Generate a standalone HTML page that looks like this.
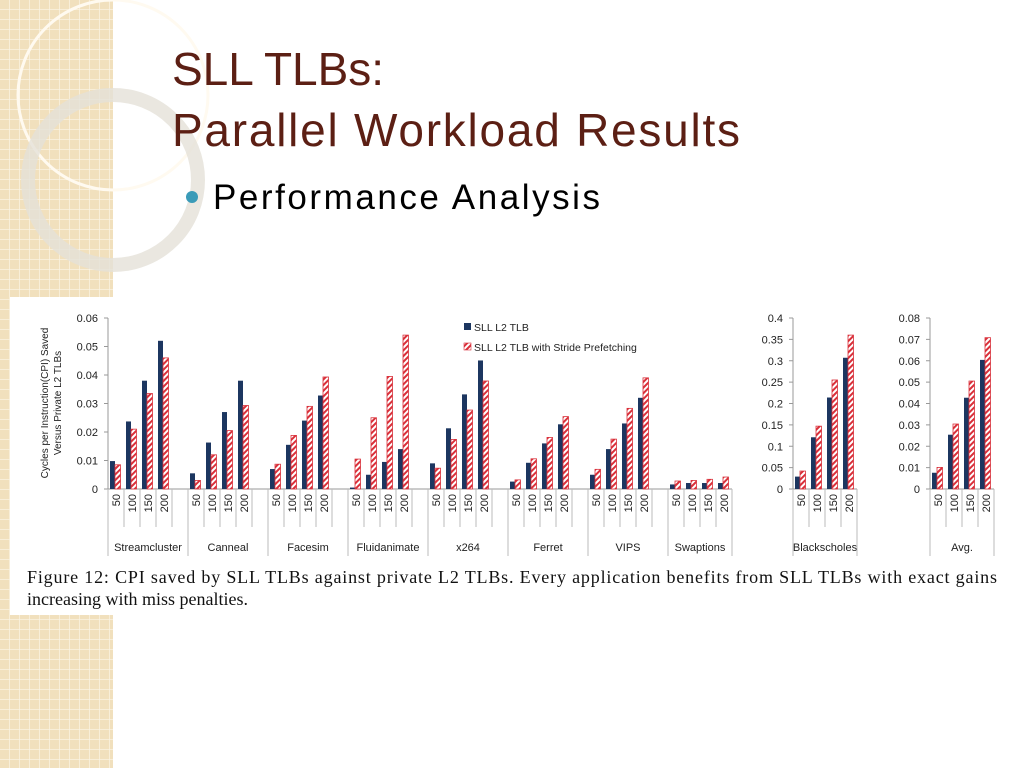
<!DOCTYPE html>
<html><head><meta charset="utf-8"><style>
html,body{margin:0;padding:0;background:#fff;}
svg{display:block;font-family:"Liberation Sans",sans-serif;}
</style></head><body>
<svg id="s" width="1024" height="768" viewBox="0 0 1024 768" xmlns="http://www.w3.org/2000/svg">
<defs>
<pattern id="grid" width="10" height="10" patternUnits="userSpaceOnUse">
<rect width="10" height="10" fill="#f1e0bd"/><path d="M10 0V10M0 10H10" stroke="#fbf3e2" stroke-width="1.5"/>
</pattern>
<pattern id="hatch" width="4" height="4" patternUnits="userSpaceOnUse" patternTransform="rotate(45)">
<rect width="4" height="4" fill="#fff"/><rect width="2" height="4" fill="#d9303a"/>
</pattern>
</defs>
<rect x="0" y="0" width="113" height="768" fill="url(#grid)"/>
<circle cx="113" cy="95" r="95" fill="none" stroke="#fffaf0" stroke-width="3"/>
<circle cx="113" cy="180" r="85" fill="none" stroke="#e5e1d8" stroke-width="14" opacity="0.8"/>
<text x="172" y="85" font-size="46" fill="#5c1f14" textLength="212">SLL TLBs:</text>
<text x="172" y="146" font-size="46" fill="#5c1f14" textLength="568">Parallel Workload Results</text>
<circle cx="192" cy="197" r="6" fill="#3a9bb8"/>
<text x="213" y="209" font-size="35" fill="#000" textLength="387">Performance Analysis</text>
<rect x="10" y="297" width="1000" height="318" fill="#fff"/>
<g id="chart"></g>
<text x="27" y="583" font-family="Liberation Serif" font-size="18" fill="#111" textLength="970">Figure 12:  CPI saved by SLL TLBs against private L2 TLBs.  Every application benefits from SLL TLBs with exact gains</text>
<text x="27" y="605" font-family="Liberation Serif" font-size="18" fill="#111">increasing with miss penalties.</text>
</svg>
<script>
const categories=["Streamcluster","Canneal","Facesim","Fluidanimate","x264","Ferret","VIPS","Swaptions"];
const penalties=["50","100","150","200"];
const sllValues=[[0.0098,0.0237,0.038,0.052],[0.0055,0.0163,0.027,0.038],[0.007,0.0155,0.024,0.0328],[0.0005,0.005,0.0095,0.014],[0.009,0.0213,0.0332,0.0451],[0.0026,0.0092,0.016,0.0227],[0.005,0.014,0.023,0.032],[0.0016,0.0021,0.0021,0.0021]];
const strideValues=[[0.0085,0.021,0.0335,0.046],[0.003,0.012,0.0205,0.0293],[0.0087,0.0188,0.029,0.0393],[0.0105,0.025,0.0395,0.054],[0.0073,0.0174,0.0277,0.0379],[0.0032,0.0106,0.0181,0.0254],[0.0069,0.0175,0.0283,0.039],[0.0028,0.003,0.0034,0.0042]];
const mainTicks=[0,0.01,0.02,0.03,0.04,0.05,0.06];
const bsSll=[0.029,0.121,0.214,0.307];
const bsStride=[0.042,0.147,0.255,0.36];
const bsTicks=[0,0.05,0.1,0.15,0.2,0.25,0.3,0.35,0.4];
const avgSll=[0.0076,0.0254,0.0427,0.0604];
const avgStride=[0.0101,0.0304,0.0505,0.0708];
const avgTicks=[0,0.01,0.02,0.03,0.04,0.05,0.06,0.07,0.08];

const NS="http://www.w3.org/2000/svg";
const g=document.getElementById('chart');
function mk(t,a,txt){const e=document.createElementNS(NS,t);for(const k in a)e.setAttribute(k,a[k]);if(txt!==undefined)e.textContent=txt;g.appendChild(e);return e;}
const Y0=489,YTOP=318,SLOT=16;
function panel(x0,groups,sData,rData,ticks,maxV,fmt,trailing,name){
  const y=v=>Y0-(v/maxV)*(Y0-YTOP);
  const ax=mk('line',{x1:x0,y1:YTOP,x2:x0,y2:Y0,stroke:'#999'});
  
  
  ticks.forEach(t=>{
    const l=mk('line',{x1:x0-4,y1:y(t),x2:x0,y2:y(t),stroke:'#999'});
    
    
    const tx=mk('text',{x:x0-10,y:y(t)+4,'font-size':11,'text-anchor':'end',fill:'#222'},fmt(t));
    
    
  });
  let x=x0;
  const totalW=groups.reduce((a,_,i)=>a+SLOT*(4+(trailing&&i<groups.length-1?1:0)),0);
  const bl=mk('line',{x1:x0,y1:Y0,x2:x0+totalW,y2:Y0,stroke:'#999'});
  
  
  groups.forEach((cat,gi)=>{
    const gx=x;
    penalties.forEach((p,pi)=>{
      const sx=x+pi*SLOT;
      const b1=mk('rect',{x:sx+2,y:y(sData[gi][pi]),width:5,height:Y0-y(sData[gi][pi]),fill:'#1c3660'});
      
      
      const b2=mk('rect',{x:sx+7,y:y(rData[gi][pi]),width:5.5,height:Y0-y(rData[gi][pi]),fill:'url(#hatch)',stroke:'#d9303a','stroke-width':0.8});
      
      
      const sep=mk('line',{x1:sx+SLOT,y1:Y0,x2:sx+SLOT,y2:527,stroke:'#bbb'});
      
      
      const lt=mk('text',{x:0,y:0,'font-size':11,fill:'#222',transform:`translate(${sx+SLOT/2+4},${494}) rotate(-90)`,'text-anchor':'end'},p);
      
      
    });
    const w=SLOT*(4+(trailing&&gi<groups.length-1?1:0));
    const gs=mk('line',{x1:gx,y1:Y0,x2:gx,y2:556,stroke:'#bbb'});
    
    
    const ct=mk('text',{x:gx+w/2,y:551,'font-size':11,'text-anchor':'middle',fill:'#222'},cat);
    
    
    x+=w;
  });
  const es=mk('line',{x1:x,y1:Y0,x2:x,y2:556,stroke:'#bbb'});
  
  
}
panel(108,categories,sllValues,strideValues,mainTicks,0.06,t=>t===0?'0':t.toFixed(2),true,'main');
panel(793,["Blackscholes"],[bsSll],[bsStride],bsTicks,0.4,t=>t===0?'0':String(+t.toFixed(2)),false,'blackscholes');
panel(930,["Avg."],[avgSll],[avgStride],avgTicks,0.08,t=>t===0?'0':t.toFixed(2),false,'avg');
// y-axis title
const yt1=mk('text',{x:0,y:0,'font-size':10,'text-anchor':'middle',fill:'#222',transform:'translate(48,403) rotate(-90)'},'Cycles per Instruction(CPI) Saved');


const yt2=mk('text',{x:0,y:0,'font-size':10,'text-anchor':'middle',fill:'#222',transform:'translate(61,403) rotate(-90)'},'Versus Private L2 TLBs');


// legend
const l1=mk('rect',{x:464,y:323,width:7,height:7,fill:'#1c3660'});


const lt1=mk('text',{x:474,y:331,'font-size':10.5,fill:'#222'},'SLL L2 TLB');


const l2=mk('rect',{x:464,y:343,width:7,height:7,fill:'url(#hatch)',stroke:'#d9303a','stroke-width':0.6});


const lt2=mk('text',{x:474,y:351,'font-size':10.5,fill:'#222'},'SLL L2 TLB with Stride Prefetching');


</script>
</body></html>
